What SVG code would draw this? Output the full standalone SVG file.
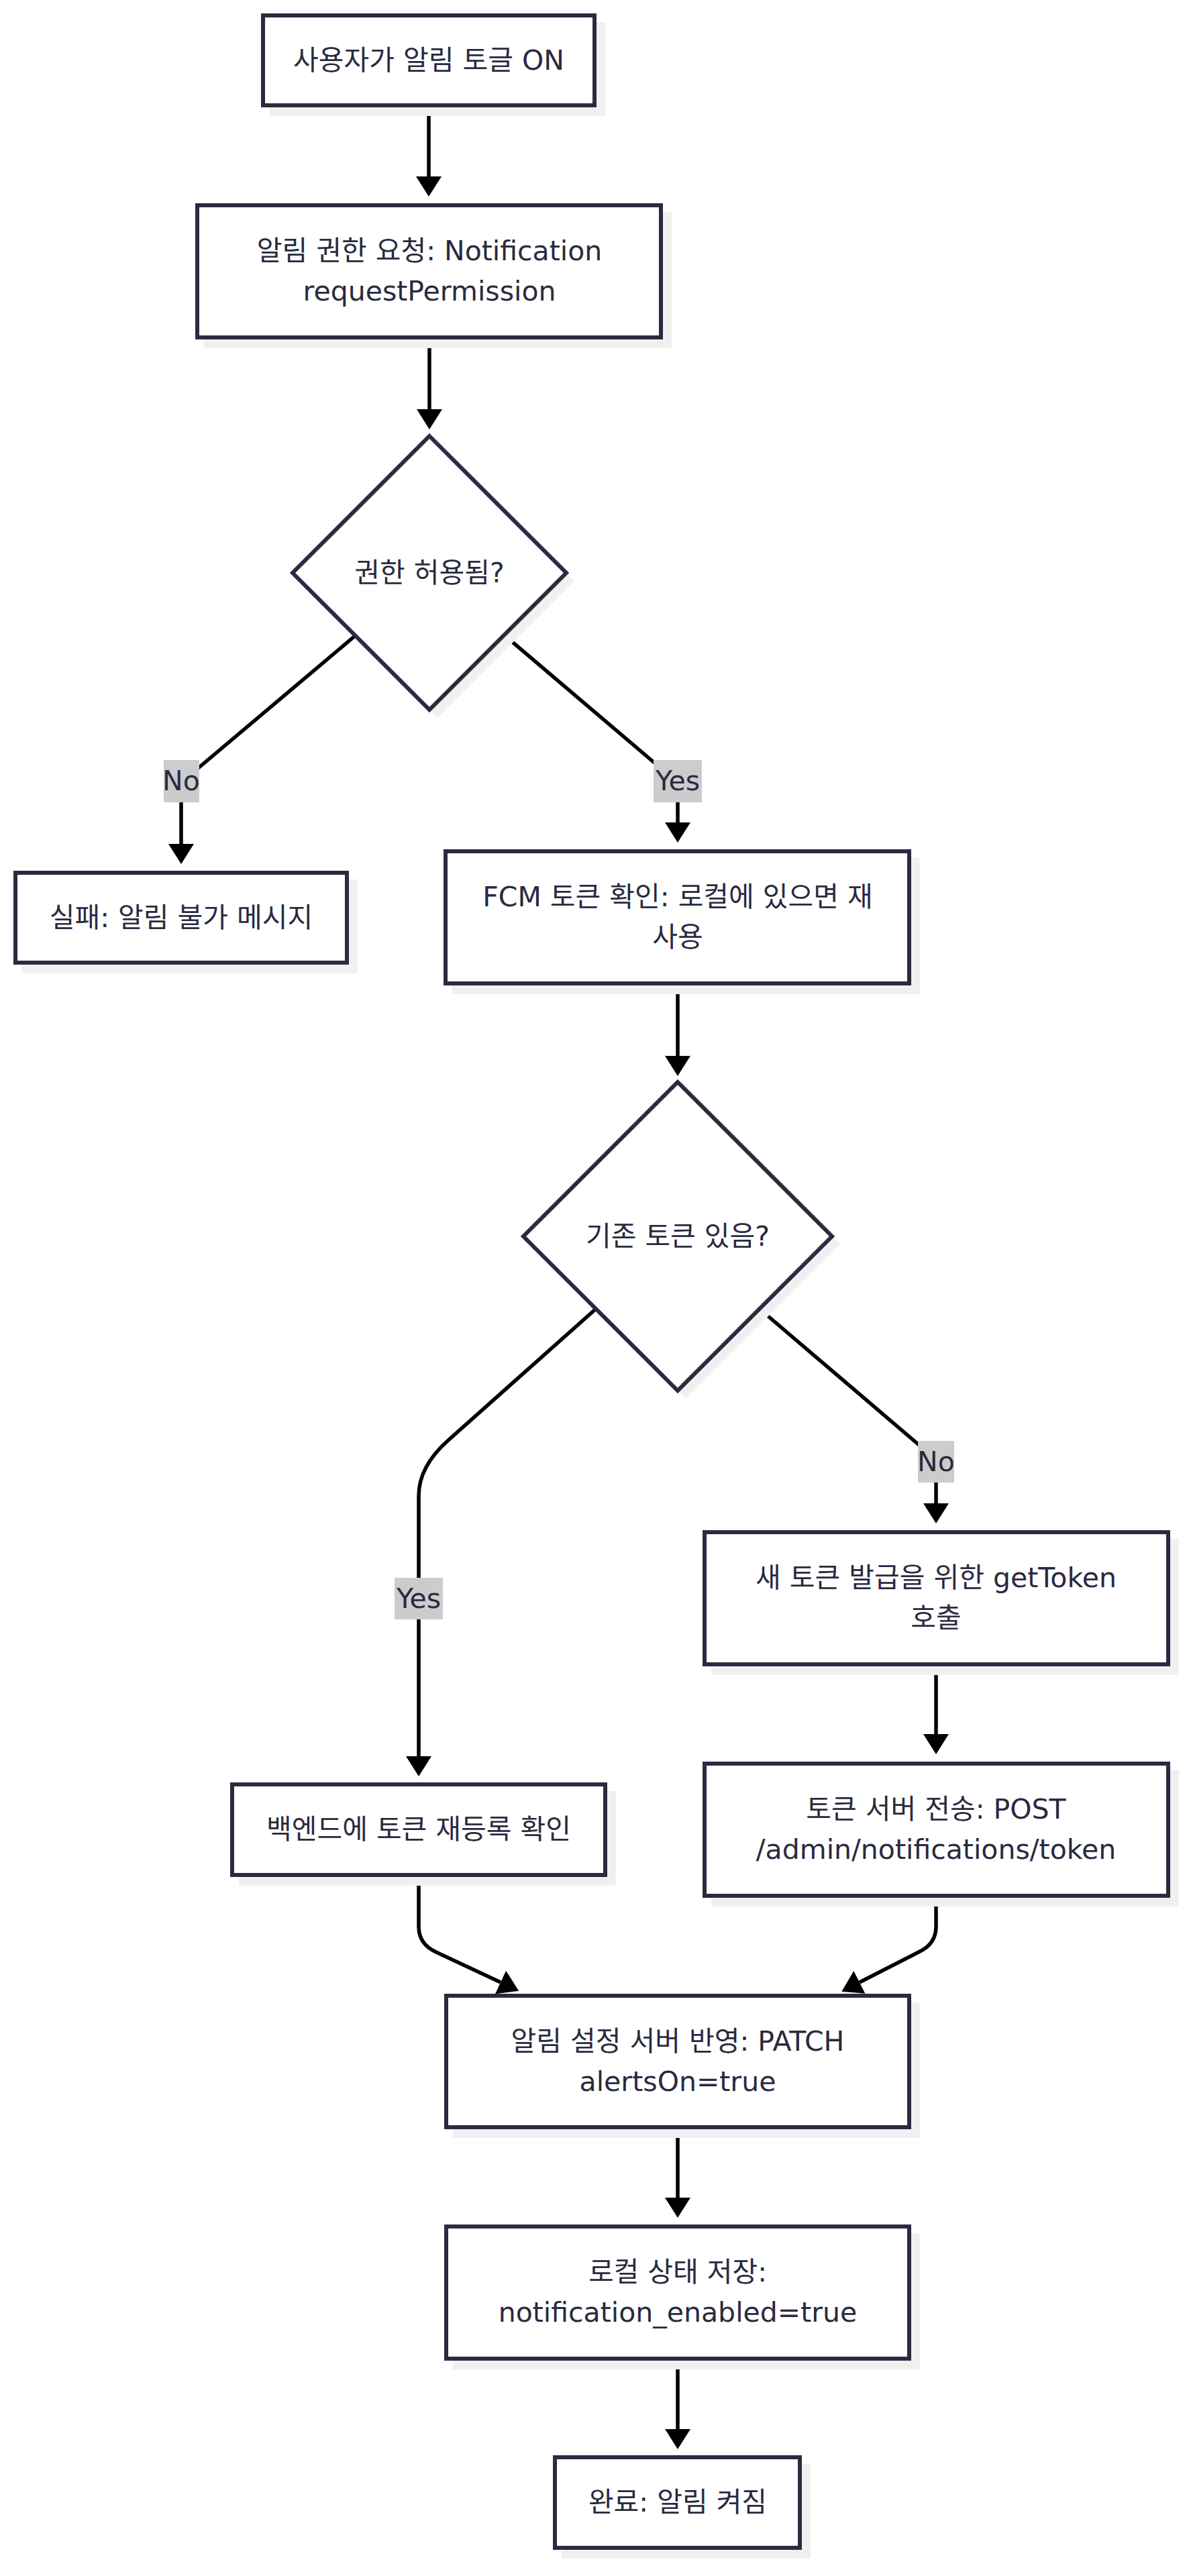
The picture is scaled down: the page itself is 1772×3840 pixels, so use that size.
<svg xmlns="http://www.w3.org/2000/svg" width="1772" height="3840" viewBox="0 0 1772 3840">
<style>
.bg{fill:#ffffff}
.shadow{fill:#f0f0f0}
.box{fill:#ffffff;stroke:#2a2a40;stroke-width:6}
.t{font-family:"DejaVu Sans","Noto Sans CJK KR",sans-serif;font-size:41px;fill:#2a2a40;text-anchor:middle;dominant-baseline:central}
.edge{fill:none;stroke:#000000;stroke-width:5.5}
.lbl{fill:#cccccc}
</style>
<defs>
<marker id="arrow" markerUnits="userSpaceOnUse" markerWidth="32" markerHeight="40" refX="0" refY="19" orient="auto" viewBox="0 0 32 40">
<path d="M0,0 L30,19 L0,38 z" fill="#000000"/>
</marker>
</defs>
<rect class="bg" x="0" y="0" width="1772" height="3840"/>

<g id="connectors">
<path class="edge" d="M639 160 L639 263" marker-end="url(#arrow)"/>
<path class="edge" d="M640 506 L640 610" marker-end="url(#arrow)"/>
<path class="edge" d="M529 948 L293 1147 Q270 1166 270 1190 L270 1258" marker-end="url(#arrow)"/>
<path class="edge" d="M753 948 L987 1147 Q1010 1166 1010 1190 L1010 1226" marker-end="url(#arrow)"/>
<path class="edge" d="M1010 1469 L1010 1574" marker-end="url(#arrow)"/>
<path class="edge" d="M887 1952 L668 2147 Q624 2186 624 2230 L624 2618" marker-end="url(#arrow)"/>
<path class="edge" d="M1133 1952 L1372 2156 Q1395 2176 1395 2200 L1395 2241" marker-end="url(#arrow)"/>
<path class="edge" d="M1395 2484 L1395 2585" marker-end="url(#arrow)"/>
<path class="edge" d="M624 2798 L624 2872 Q624 2898 650 2910 L746 2955" marker-end="url(#arrow)"/>
<path class="edge" d="M1395 2829 L1395 2872 Q1395 2898 1369 2910 L1281 2955" marker-end="url(#arrow)"/>
<path class="edge" d="M1010 3174 L1010 3276" marker-end="url(#arrow)"/>
<path class="edge" d="M1010 3519 L1010 3621" marker-end="url(#arrow)"/>
<rect class="lbl" x="244" y="1133" width="53" height="63"/>
<text class="t" x="270" y="1164">No</text>
<rect class="lbl" x="974" y="1133" width="72" height="63"/>
<text class="t" x="1010" y="1164">Yes</text>
<rect class="lbl" x="1368" y="2148" width="54" height="62"/>
<text class="t" x="1395" y="2179">No</text>
<rect class="lbl" x="588" y="2352" width="72" height="62"/>
<text class="t" x="624" y="2383">Yes</text>
</g>

<g id="n1">
<rect class="shadow" x="402" y="33" width="500" height="140"/>
<rect class="box" x="392" y="23" width="494" height="134"/>
<text class="t" x="639" y="90">사용자가 알림 토글 ON</text>
</g>

<g id="n2">
<rect class="shadow" x="304" y="316" width="697" height="203"/>
<rect class="box" x="294" y="306" width="691" height="197"/>
<text class="t" x="640" y="374">알림 권한 요청: Notification</text>
<text class="t" x="640" y="434">requestPermission</text>
</g>

<g id="d1">
<polygon class="shadow" points="652,662 856,866 652,1070 448,866"/>
<polygon class="box" points="640,650 844,854 640,1058 436,854"/>
<text class="t" x="640" y="854">권한 허용됨?</text>
</g>

<g id="n3">
<rect class="shadow" x="33" y="1311" width="500" height="140"/>
<rect class="box" x="23" y="1301" width="494" height="134"/>
<text class="t" x="270" y="1368">실패: 알림 불가 메시지</text>
</g>

<g id="n4">
<rect class="shadow" x="674" y="1279" width="697" height="203"/>
<rect class="box" x="664" y="1269" width="691" height="197"/>
<text class="t" x="1010" y="1337">FCM 토큰 확인: 로컬에 있으면 재</text>
<text class="t" x="1010" y="1397">사용</text>
</g>

<g id="d2">
<polygon class="shadow" points="1022,1625 1252,1855 1022,2085 792,1855"/>
<polygon class="box" points="1010,1613 1240,1843 1010,2073 780,1843"/>
<text class="t" x="1010" y="1843">기존 토큰 있음?</text>
</g>

<g id="n5">
<rect class="shadow" x="1060" y="2294" width="697" height="203"/>
<rect class="box" x="1050" y="2284" width="691" height="197"/>
<text class="t" x="1395" y="2352">새 토큰 발급을 위한 getToken</text>
<text class="t" x="1395" y="2412">호출</text>
</g>

<g id="n6">
<rect class="shadow" x="356" y="2670" width="562" height="141"/>
<rect class="box" x="346" y="2660" width="556" height="135"/>
<text class="t" x="624" y="2727">백엔드에 토큰 재등록 확인</text>
</g>

<g id="n7">
<rect class="shadow" x="1060" y="2639" width="697" height="203"/>
<rect class="box" x="1050" y="2629" width="691" height="197"/>
<text class="t" x="1395" y="2697">토큰 서버 전송: POST</text>
<text class="t" x="1395" y="2757">/admin/notifications/token</text>
</g>

<g id="n8">
<rect class="shadow" x="675" y="2985" width="696" height="202"/>
<rect class="box" x="665" y="2975" width="690" height="196"/>
<text class="t" x="1010" y="3043">알림 설정 서버 반영: PATCH</text>
<text class="t" x="1010" y="3103">alertsOn=true</text>
</g>

<g id="n9">
<rect class="shadow" x="675" y="3329" width="696" height="203"/>
<rect class="box" x="665" y="3319" width="690" height="197"/>
<text class="t" x="1010" y="3387">로컬 상태 저장:</text>
<text class="t" x="1010" y="3447">notification_enabled=true</text>
</g>

<g id="n10">
<rect class="shadow" x="837" y="3673" width="371" height="141"/>
<rect class="box" x="827" y="3663" width="365" height="135"/>
<text class="t" x="1010" y="3730">완료: 알림 켜짐</text>
</g>
</svg>
